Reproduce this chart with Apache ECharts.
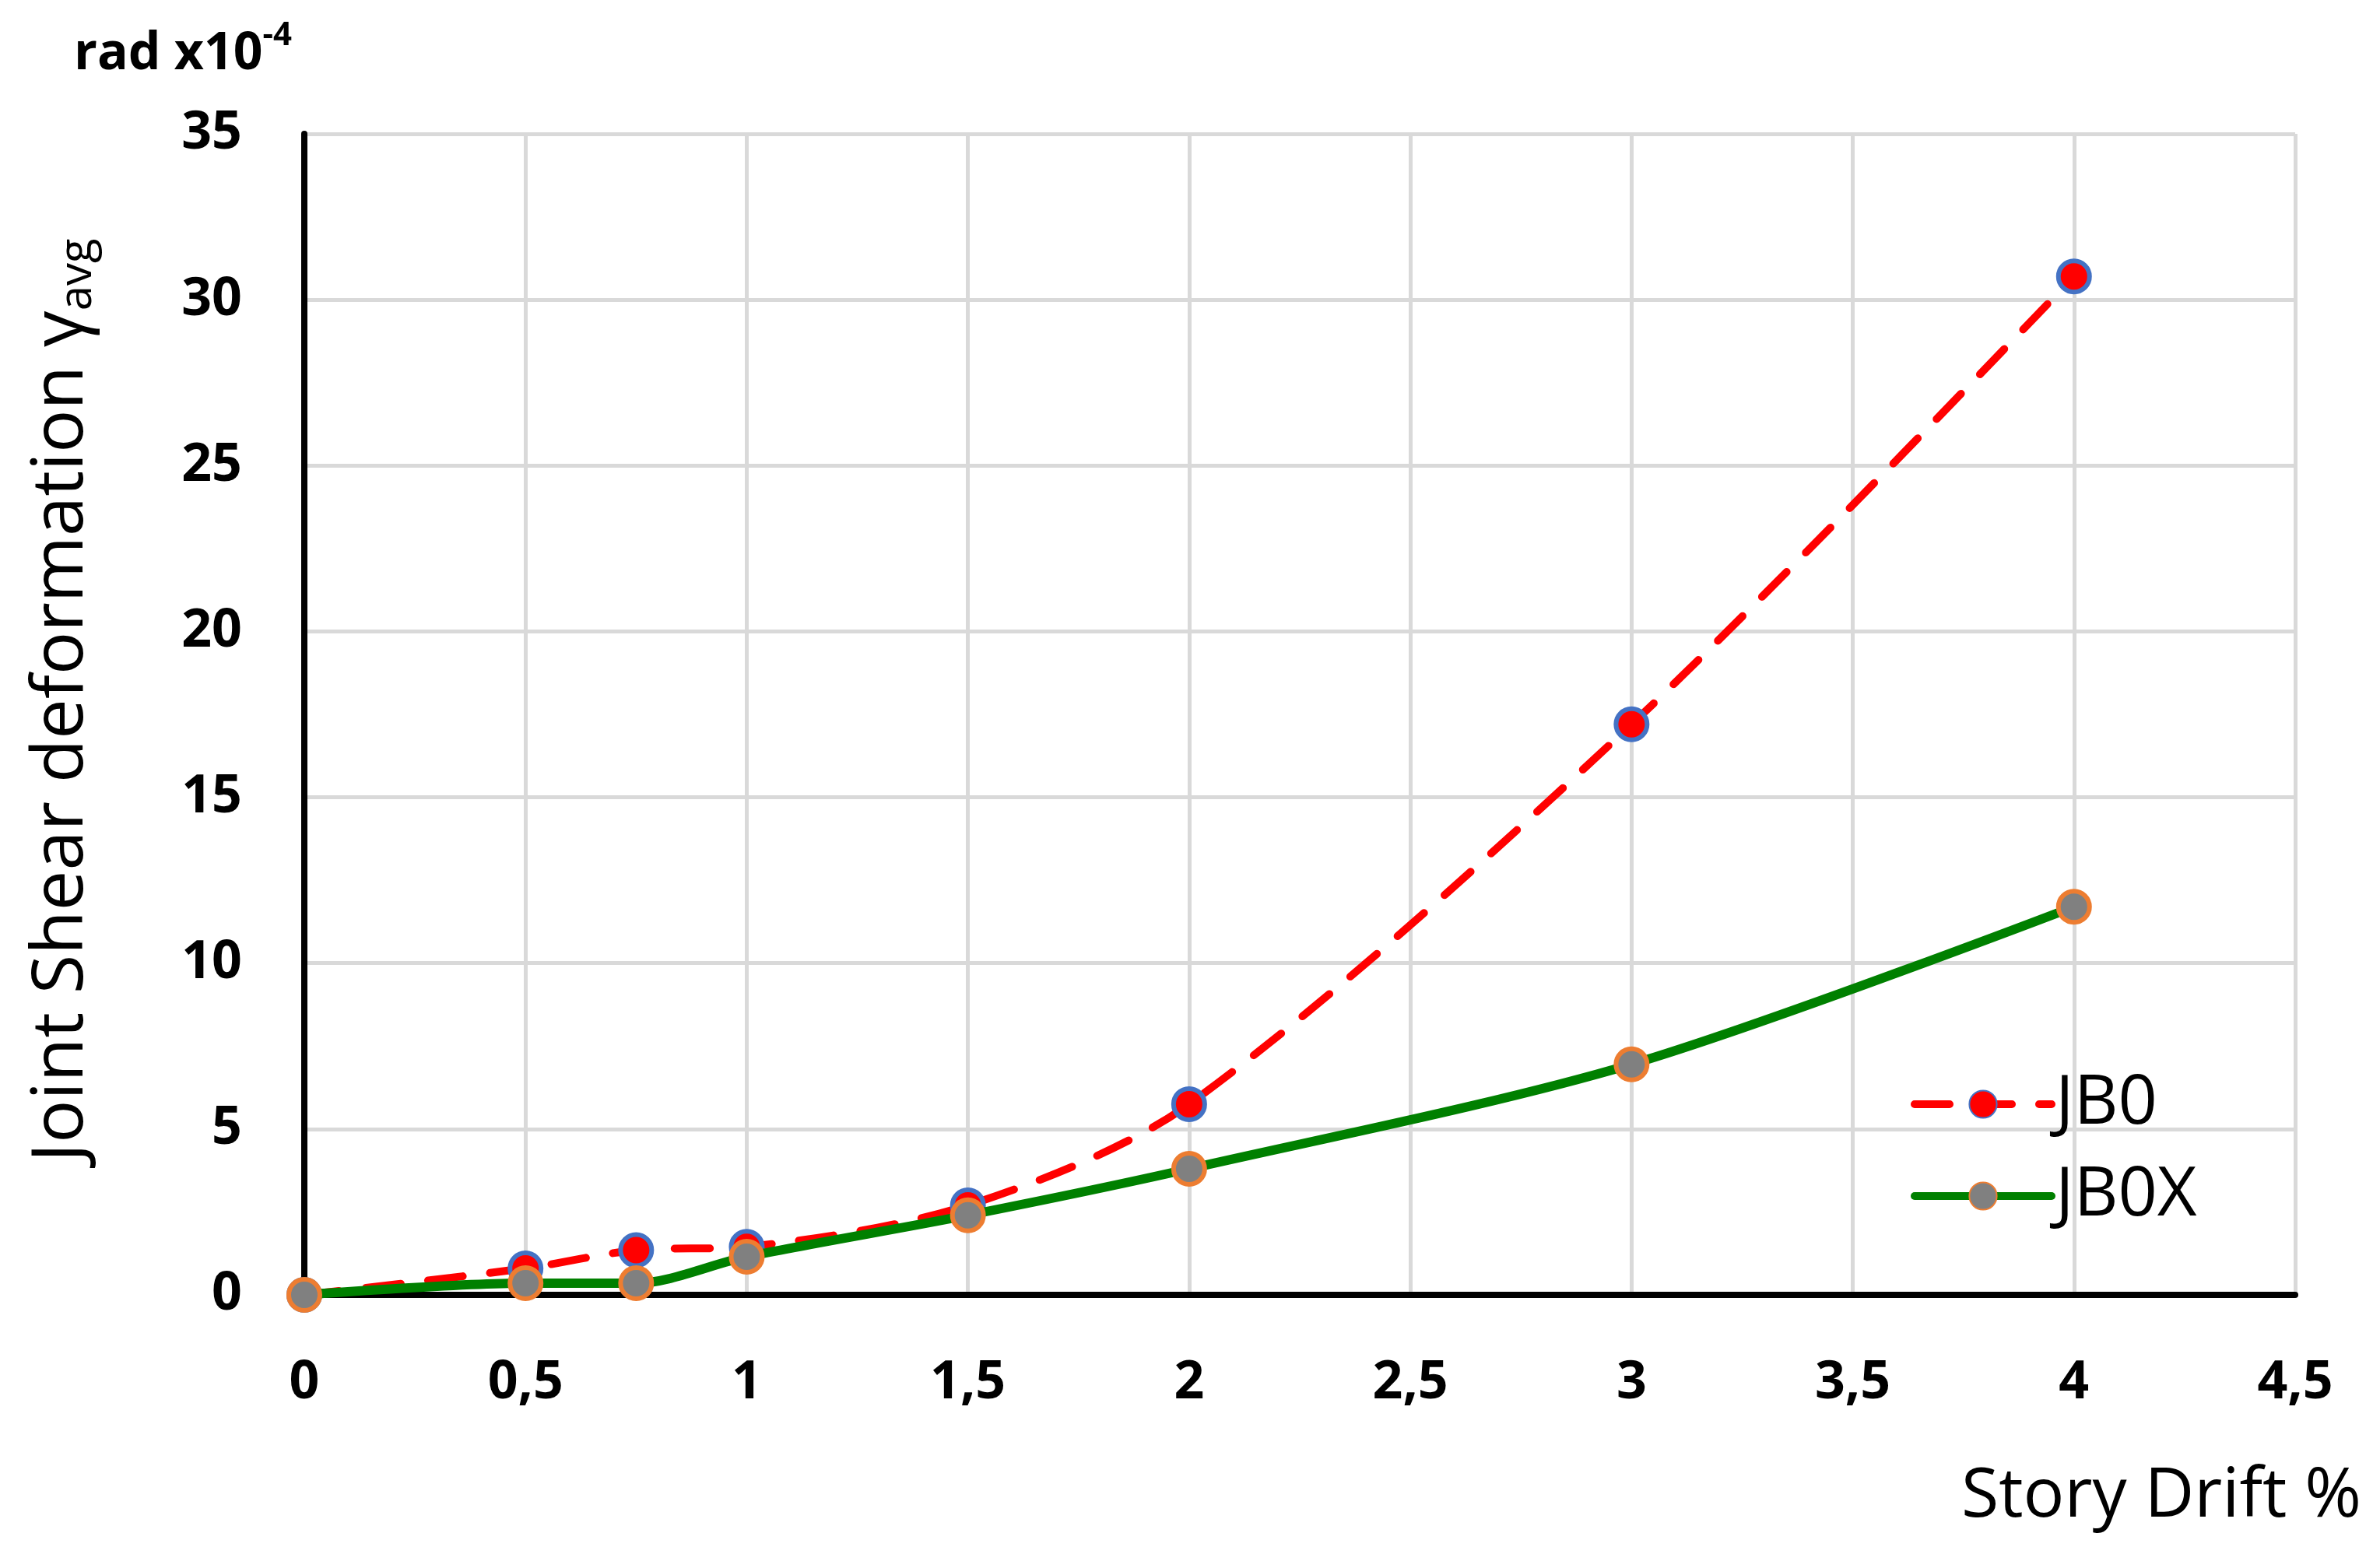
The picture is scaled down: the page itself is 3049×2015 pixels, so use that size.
<!DOCTYPE html>
<html>
<head>
<meta charset="utf-8">
<script src="https://cdn.jsdelivr.net/npm/echarts@6/dist/echarts.min.js"></script>
<style>html,body{margin:0;padding:0;background:#fff}#main{width:3049px;height:2015px}</style>
</head>
<body>
<div id="main"></div>
<script>
let drift = [0, 0.5, 0.75, 1, 1.5, 2, 3, 4];
let jbo = [0, 0.8, 1.35, 1.45, 2.7, 5.75, 17.2, 30.7];
let jbox = [0, 0.35, 0.35, 1.15, 2.4, 3.8, 6.95, 11.7];

const font = 'Open Sans';

function pairs(ys) {
    return drift.map((x, i) => [x, ys[i]]);
}

const option = {
    animation: false,
    backgroundColor: '#fff',
    grid: {left: 391, right: 100, top: 172, bottom: 351},
    legend: {
        orient: 'vertical',
        left: 2450,
        top: 1370,
        itemWidth: 176,
        itemHeight: 44,
        itemGap: 30,
        lineStyle: {width: 10},
        textStyle: {fontFamily: font, fontSize: 88, color: '#000'},
        data: ['JB0', 'JB0X']
    },
    xAxis: {
        type: 'value',
        min: 0, max: 4.5, interval: 0.5,
        axisLine: {lineStyle: {color: '#000', width: 8}},
        axisTick: {show: false},
        splitLine: {show: true, lineStyle: {color: '#d9d9d9', width: 5}},
        axisLabel: {
            margin: 80, fontFamily: font, fontWeight: 'bold', fontSize: 68, color: '#000',
            formatter: v => String(v).replace('.', ',')
        }
    },
    yAxis: {
        type: 'value',
        min: 0, max: 35, interval: 5,
        axisLine: {show: true, lineStyle: {color: '#000', width: 8}},
        axisTick: {show: false},
        splitLine: {show: true, lineStyle: {color: '#d9d9d9', width: 5}},
        axisLabel: {margin: 80, fontFamily: font, fontWeight: 'bold', fontSize: 68, color: '#000'}
    },
    graphic: [
        {
            type: 'text', left: 95, top: 25,
            style: {
                text: '{a|rad x10}{s|-4}', fontFamily: font,
                rich: {
                    a: {fontFamily: font, fontWeight: 'bold', fontSize: 66, color: '#000', verticalAlign: 'bottom'},
                    s: {fontFamily: font, fontWeight: 'bold', fontSize: 42, color: '#000', verticalAlign: 'top', padding: [0, 0, 36, 0]}
                }
            }
        },
        {
            type: 'text', x: 80, y: 900, rotation: Math.PI / 2,
            style: {
                text: '{a|Joint Shear deformation γ}{s|avg}', align: 'center', verticalAlign: 'middle',
                rich: {
                    a: {fontFamily: font, fontSize: 92, color: '#000'},
                    s: {fontFamily: font, fontSize: 58, color: '#000', padding: [40, 0, 0, 0]}
                }
            }
        },
        {
            type: 'text', right: 15, top: 1880,
            style: {text: 'Story Drift %', fontFamily: font, fontSize: 88, fill: '#000'}
        }
    ],
    series: [
        {
            name: 'JB0', type: 'line', smooth: 0.3,
            data: pairs(jbo),
            symbol: 'circle', symbolSize: 40,
            lineStyle: {color: '#ff0000', width: 10, type: [45, 35], cap: 'round'},
            itemStyle: {color: '#ff0000', borderColor: '#4472c4', borderWidth: 6},
            z: 2
        },
        {
            name: 'JB0X', type: 'line', smooth: 0.3,
            data: pairs(jbox),
            symbol: 'circle', symbolSize: 40,
            lineStyle: {color: '#008000', width: 12, cap: 'round'},
            itemStyle: {color: '#808080', borderColor: '#ed7d31', borderWidth: 6},
            z: 3
        }
    ]
};

let plot = echarts.init(document.querySelector('#main'));
plot.setOption(option);
</script>
</body>
</html>
